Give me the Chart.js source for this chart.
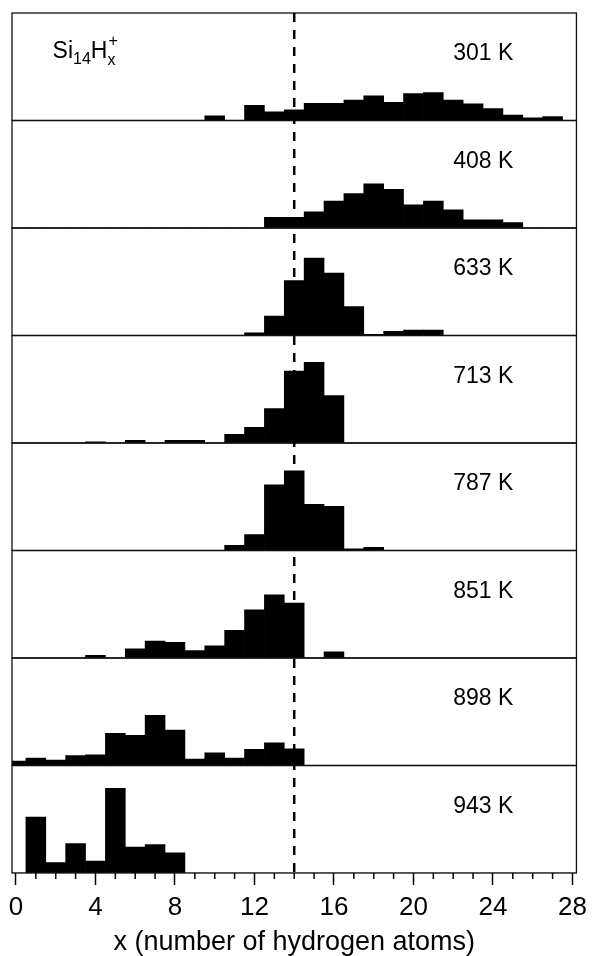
<!DOCTYPE html>
<html>
<head>
<meta charset="utf-8">
<script src="https://cdn.jsdelivr.net/npm/chart.js@4.4.1/dist/chart.umd.min.js"></script>
<style>
  html, body { margin: 0; padding: 0; background: #fff; }
</style>
</head>
<body>
<canvas id="hist" width="594" height="956"></canvas>
<script>
// number of hydrogen atoms, one bin per integer
const hydrogens = [0, 1, 2, 3, 4, 5, 6, 7, 8, 9, 10, 11, 12, 13, 14, 15, 16, 17, 18, 19, 20, 21, 22, 23, 24, 25, 26, 27, 28];
const temperatures = ['301 K', '408 K', '633 K', '713 K', '787 K', '851 K', '898 K', '943 K'];

// intensities, arbitrary units (x = 0 ... 28)
const counts301 = [0, 0, 0, 0, 0, 0, 0, 0, 0, 0, 4.3, 0, 14, 8, 10, 16, 16, 19, 23, 17, 25, 26, 19, 15.5, 11, 5, 2.5, 3.7, 0];
const counts408 = [0, 0, 0, 0, 0, 0, 0, 0, 0, 0, 0, 0, 0, 10, 10, 15, 25, 32, 41, 36, 21.5, 25, 17, 7.7, 7.7, 5, 0, 0, 0];
const counts633 = [0, 0, 0, 0, 0, 0, 0, 0, 0, 0, 0, 0, 2.5, 18, 51, 72, 58, 27, 1, 3.8, 5, 5, 0, 0, 0, 0, 0, 0, 0];
const counts713 = [0, 0, 0, 0, 1, 0, 2.5, 0, 2.5, 2.5, 0, 8, 14.6, 32, 67, 75, 44, 0, 0, 0, 0, 0, 0, 0, 0, 0, 0, 0, 0];
const counts787 = [0, 0, 0, 0, 0, 0, 0, 0, 0, 0, 0, 4.8, 14.7, 61, 74, 43, 41, 1.6, 2.9, 0, 0, 0, 0, 0, 0, 0, 0, 0, 0];
const counts851 = [0, 0, 0, 0, 2.5, 0, 8.5, 15.7, 14.5, 7, 11.3, 25.8, 44.7, 58.8, 51, 0, 5.7, 0, 0, 0, 0, 0, 0, 0, 0, 0, 0, 0, 0];
const counts898 = [4, 7, 5, 9.3, 10, 30, 28, 46.7, 33, 6, 11.8, 6.9, 15, 21, 15.6, 0, 0, 0, 0, 0, 0, 0, 0, 0, 0, 0, 0, 0, 0];
const counts943 = [0, 52, 9.8, 27.4, 11, 78.8, 24, 26.5, 18.8, 0, 0, 0, 0, 0, 0, 0, 0, 0, 0, 0, 0, 0, 0, 0, 0, 0, 0, 0, 0];

const xTitle = 'x (number of hydrogen atoms)';
const markerX = 14;

const allCounts = [counts301, counts408, counts633, counts713, counts787, counts851, counts898, counts943];

Chart.defaults.font.family = '"Liberation Sans", Arial, sans-serif';
Chart.defaults.color = '#000';

const datasets = allCounts.map((counts, i) => ({
  label: temperatures[i],
  data: hydrogens.map((h, j) => ({ x: h, y: counts[j] })),
  yAxisID: 'p' + i,
  backgroundColor: '#000',
  borderWidth: 0,
  grouped: false,
  barPercentage: 1,
  categoryPercentage: 1
}));

const scales = {
  x: {
    type: 'linear',
    min: -0.2,
    max: 28.2,
    offset: false,
    grid: {
      offset: false,
      drawOnChartArea: false,
      tickLength: 12,
      tickWidth: 1.5,
      tickColor: (ctx) => (ctx.tick && ctx.tick.value % 4 === 0) ? '#000' : 'rgba(0,0,0,0)'
    },
    border: { display: false },
    ticks: {
      stepSize: 1,
      autoSkip: false,
      includeBounds: false,
      maxRotation: 0,
      padding: 7,
      font: { size: 26 },
      color: '#000',
      callback: (v) => (v % 4 === 0 ? String(v) : '')
    },
    title: {
      display: true,
      text: xTitle,
      color: '#000',
      font: { size: 27, lineHeight: 1 },
      padding: 0
    },
    afterFit: (s) => { s.height = 83; }
  }
};
temperatures.forEach((t, i) => {
  scales['p' + i] = {
    type: 'linear',
    position: 'right',
    stack: 'panels',
    stackWeight: 1,
    min: 0,
    max: 100,
    display: false
  };
});

// frames, labels, minor ticks and the dashed marker
const decor = {
  id: 'decor',
  afterDatasetsDraw(chart) {
    const ctx = chart.ctx;
    const area = chart.chartArea;
    const xs = chart.scales.x;
    ctx.save();

    ctx.strokeStyle = '#111';
    ctx.lineWidth = 1.3;
    temperatures.forEach((t, i) => {
      const ys = chart.scales['p' + i];
      ctx.strokeRect(area.left, ys.top, area.right - area.left, ys.bottom - ys.top);

      ctx.fillStyle = '#000';
      ctx.font = '23px "Liberation Sans", Arial, sans-serif';
      ctx.textAlign = 'left';
      ctx.textBaseline = 'middle';
      ctx.fillText(t, xs.getPixelForValue(22), ys.getPixelForValue(62));
    });

    // Si14Hx+ label in the first panel
    const y0 = chart.scales.p0;
    let px = xs.getPixelForValue(1.84);
    const py = y0.getPixelForValue(64);
    const big = '23px "Liberation Sans", Arial, sans-serif';
    const small = '16px "Liberation Sans", Arial, sans-serif';
    ctx.textBaseline = 'middle';
    ctx.font = big; ctx.fillText('Si', px, py); px += ctx.measureText('Si').width;
    ctx.font = small; ctx.fillText('14', px, py + 8); px += ctx.measureText('14').width;
    ctx.font = big; ctx.fillText('H', px, py); px += ctx.measureText('H').width;
    ctx.font = small; ctx.fillText('x', px, py + 9); ctx.fillText('+', px + 1, py - 10);

    // minor ticks
    ctx.lineWidth = 1.5;
    ctx.strokeStyle = '#000';
    xs.ticks.forEach((tk) => {
      if (tk.value % 4 !== 0) {
        const x = xs.getPixelForValue(tk.value);
        ctx.beginPath();
        ctx.moveTo(x, area.bottom);
        ctx.lineTo(x, area.bottom + 6);
        ctx.stroke();
      }
    });

    // dashed line at x = 14
    const mx = xs.getPixelForValue(markerX);
    ctx.lineWidth = 2.5;
    ctx.setLineDash([9, 8]);
    ctx.beginPath();
    ctx.moveTo(mx, area.top);
    ctx.lineTo(mx, area.bottom);
    ctx.stroke();
    ctx.restore();
  }
};

new Chart(document.getElementById('hist'), {
  type: 'bar',
  data: { datasets: datasets },
  options: {
    responsive: false,
    animation: false,
    devicePixelRatio: 1,
    layout: { padding: { top: 13, left: 12, right: 12, bottom: 0 } },
    plugins: { legend: { display: false }, tooltip: { enabled: false } },
    scales: scales
  },
  plugins: [decor]
});
</script>
</body>
</html>
